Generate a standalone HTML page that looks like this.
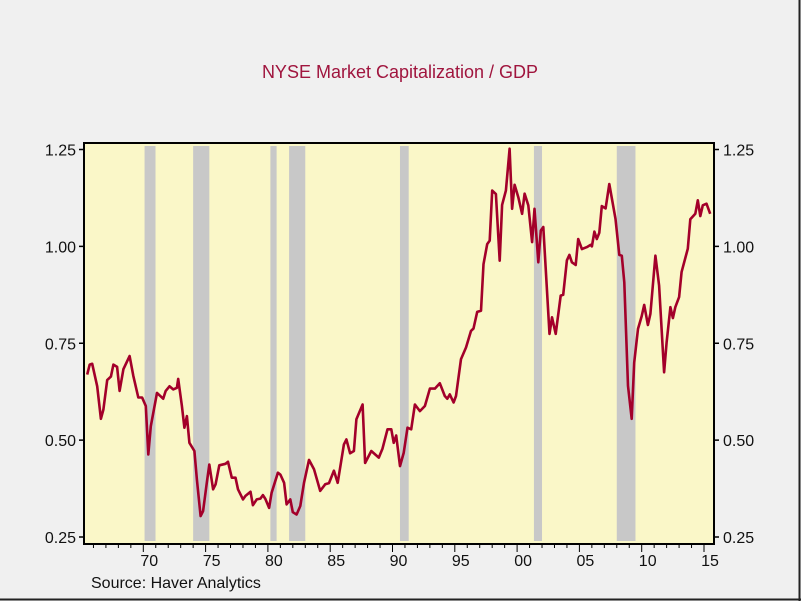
<!DOCTYPE html>
<html><head><meta charset="utf-8"><style>
html,body{margin:0;padding:0;background:#f0f0f0;}
svg{display:block;font-family:"Liberation Sans",sans-serif;}
</style></head><body>
<svg id="chart" width="801" height="601">
<rect x="0" y="0" width="801" height="601" fill="#f0f0f0"/>
<line x1="799.5" y1="0" x2="799.5" y2="601" stroke="#222" stroke-width="2"/>
<line x1="0" y1="599.5" x2="801" y2="599.5" stroke="#222" stroke-width="2"/>
<text x="400" y="78" text-anchor="middle" font-size="18" fill="#a0153e">NYSE Market Capitalization / GDP</text>
<text x="91" y="588" font-size="16" fill="#111">Source: Haver Analytics</text>
<g id="plot"></g>
</svg>
<script>
const yTicks = [0.25, 0.50, 0.75, 1.00, 1.25];
const yTickLabels = ["0.25", "0.50", "0.75", "1.00", "1.25"];
const xTickYears = [1970, 1975, 1980, 1985, 1990, 1995, 2000, 2005, 2010, 2015];
const xTickLabels = ["70", "75", "80", "85", "90", "95", "00", "05", "10", "15"];
const recessionStarts = [1970.1, 1974.0, 1980.2, 1981.7, 1990.6, 2001.35, 2008.0];
const recessionEnds = [1970.98, 1975.3, 1980.7, 1983.0, 1991.3, 2002.0, 2009.5];
const years = [1965.5,1965.7,1965.9,1966.3,1966.6,1966.8,1967.1,1967.4,1967.6,1967.9,1968.1,1968.4,1968.9,1969.2,1969.6,1969.9,1970.2,1970.4,1970.6,1971.1,1971.6,1971.8,1972.1,1972.4,1972.7,1972.8,1973.1,1973.3,1973.5,1973.7,1974.1,1974.3,1974.6,1974.8,1975.1,1975.3,1975.6,1975.8,1976.1,1976.6,1976.8,1977.1,1977.4,1977.6,1978.0,1978.2,1978.6,1978.8,1979.1,1979.4,1979.6,1979.8,1980.1,1980.3,1980.8,1981.0,1981.3,1981.5,1981.8,1982.0,1982.3,1982.6,1982.9,1983.3,1983.7,1984.2,1984.6,1984.9,1985.3,1985.6,1986.1,1986.3,1986.6,1986.9,1987.1,1987.6,1987.8,1988.3,1988.9,1989.2,1989.6,1989.9,1990.1,1990.3,1990.6,1990.9,1991.2,1991.5,1991.8,1992.2,1992.6,1993.0,1993.4,1993.8,1994.2,1994.4,1994.6,1994.9,1995.1,1995.5,1995.9,1996.3,1996.5,1996.8,1997.1,1997.3,1997.6,1997.8,1998.0,1998.3,1998.6,1998.8,1999.1,1999.4,1999.6,1999.8,2000.1,2000.4,2000.6,2000.9,2001.2,2001.4,2001.7,2001.9,2002.1,2002.6,2002.8,2003.1,2003.5,2003.7,2004.0,2004.2,2004.4,2004.7,2004.9,2005.2,2005.6,2005.9,2006.0,2006.2,2006.4,2006.6,2006.8,2007.1,2007.4,2007.9,2008.2,2008.4,2008.6,2008.9,2009.2,2009.4,2009.7,2010.0,2010.2,2010.5,2010.7,2011.1,2011.4,2011.8,2012.0,2012.3,2012.5,2012.7,2013.0,2013.2,2013.7,2013.9,2014.3,2014.5,2014.7,2014.9,2015.2,2015.5];
const values = [0.669,0.695,0.697,0.639,0.555,0.579,0.655,0.664,0.695,0.689,0.627,0.683,0.717,0.666,0.610,0.610,0.588,0.463,0.536,0.622,0.607,0.627,0.639,0.631,0.635,0.658,0.588,0.532,0.562,0.493,0.472,0.398,0.304,0.317,0.390,0.437,0.373,0.386,0.435,0.439,0.444,0.403,0.403,0.373,0.347,0.356,0.367,0.332,0.347,0.349,0.358,0.348,0.325,0.364,0.416,0.411,0.390,0.334,0.347,0.314,0.308,0.330,0.390,0.449,0.425,0.369,0.386,0.389,0.421,0.390,0.489,0.502,0.466,0.472,0.554,0.592,0.441,0.472,0.455,0.478,0.528,0.528,0.493,0.512,0.433,0.467,0.532,0.528,0.592,0.575,0.588,0.633,0.633,0.647,0.614,0.607,0.618,0.597,0.614,0.709,0.739,0.782,0.788,0.831,0.834,0.954,1.006,1.015,1.144,1.135,0.963,1.107,1.144,1.252,1.097,1.159,1.127,1.084,1.136,1.106,1.011,1.097,0.959,1.041,1.050,0.774,0.817,0.774,0.873,0.875,0.964,0.978,0.959,0.952,1.019,0.993,0.998,1.004,1.000,1.038,1.019,1.035,1.104,1.098,1.161,1.071,0.978,0.976,0.907,0.640,0.555,0.700,0.787,0.820,0.849,0.797,0.826,0.976,0.899,0.675,0.752,0.843,0.815,0.843,0.869,0.934,0.994,1.070,1.084,1.119,1.078,1.106,1.110,1.084];

const L=84, R=714, T=143, B=544;
const X0=1970, PX0=143.3, PPY=12.46;
function xs(yr){return PX0+(yr-X0)*PPY;}
function ys(v){return 537-(v-0.25)*(537-149.5)/1.0;}
const NS="http://www.w3.org/2000/svg";
const g=document.getElementById('plot');
function mk(tag,attrs){const e=document.createElementNS(NS,tag);for(const k in attrs)e.setAttribute(k,attrs[k]);g.appendChild(e);return e;}

const bg=mk('rect',{x:L,y:T,width:R-L,height:B-T,fill:'#faf7c8'});



for(let i=0;i<recessionStarts.length;i++){
  const a=xs(recessionStarts[i]), b=xs(recessionEnds[i]);
  const r=mk('rect',{x:a,y:T+3,width:b-a,height:B-T-6,fill:'#c8c8c8'});
  
  
}

let d='';
for(let i=0;i<years.length;i++){d+=(i?'L':'M')+xs(years[i]).toFixed(1)+','+ys(values[i]).toFixed(1);}
const line=mk('path',{d:d,fill:'none',stroke:'#a3002a','stroke-width':2.6,'stroke-linejoin':'round'});



const fr=mk('rect',{x:L,y:T,width:R-L,height:B-T,fill:'none',stroke:'#000','stroke-width':2});



for(let i=0;i<yTicks.length;i++){
  const y=ys(yTicks[i]);
  const t1=mk('line',{x1:L-5,x2:L,y1:y,y2:y,stroke:'#000','stroke-width':1.5});
  
  
  const t2=mk('line',{x1:R,x2:R+5,y1:y,y2:y,stroke:'#000','stroke-width':1.5});
  
  
  const l1=mk('text',{x:L-8,y:y+6,'text-anchor':'end','font-size':16,fill:'#111'});
  l1.textContent=yTickLabels[i];
  
  
  const l2=mk('text',{x:R+9,y:y+6,'text-anchor':'start','font-size':16,fill:'#111'});
  l2.textContent=yTickLabels[i];
  
  
}
for(let yr=1966;yr<=2015;yr++){
  const x=xs(yr); if(x<L||x>R+2)continue;
  const major=yr%5===0;
  const t=mk('line',{x1:x,x2:x,y1:B,y2:B+(major?8:4),stroke:'#000','stroke-width':1});
  
  
}
for(let i=0;i<xTickYears.length;i++){
  const lb=mk('text',{x:xs(xTickYears[i])+6,y:566,'text-anchor':'middle','font-size':16,fill:'#111'});
  lb.textContent=xTickLabels[i];
  
  
}
</script>
</body></html>
